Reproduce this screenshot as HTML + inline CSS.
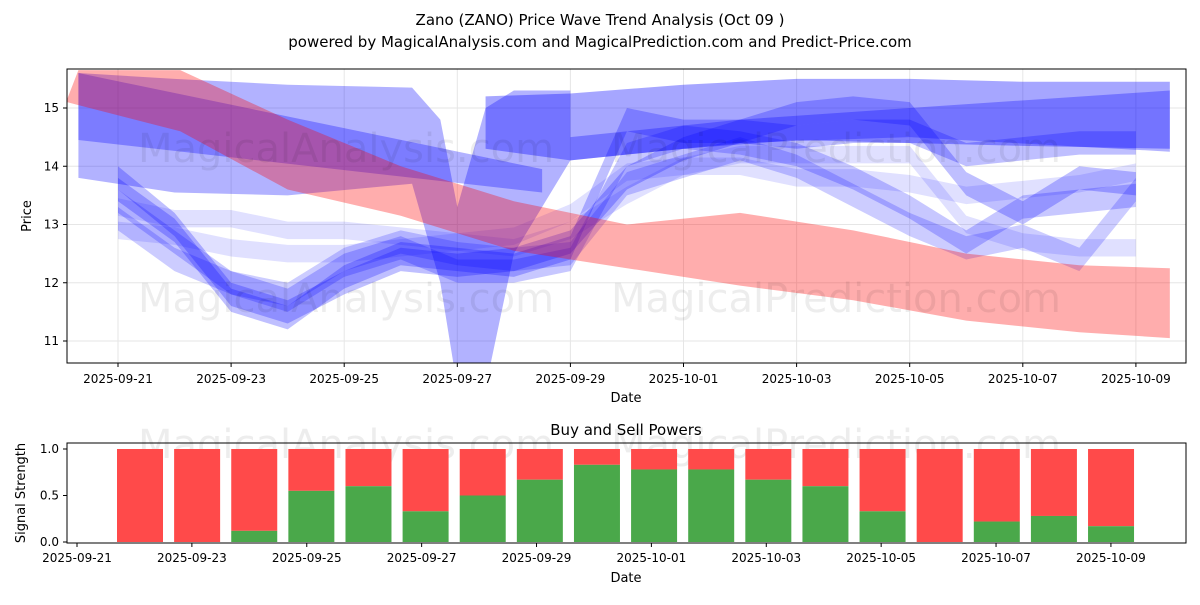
<!DOCTYPE html>
<html><head><meta charset="utf-8"><style>
body{margin:0;background:#fff;font-family:"Liberation Sans",sans-serif}
svg text{font-family:"DejaVu Sans","Liberation Sans",sans-serif}
</style></head><body>
<svg id="c" width="1200" height="600" xmlns="http://www.w3.org/2000/svg"></svg>
<script>
// ---- data ----
const xTickLabels=["2025-09-21","2025-09-23","2025-09-25","2025-09-27","2025-09-29","2025-10-01","2025-10-03","2025-10-05","2025-10-07","2025-10-09"];
const xTickDays=[1,3,5,7,9,11,13,15,17,19];
const yTicks=[11,12,13,14,15];
const redDays=[0.1,0.3,2.1,4,6,8,10,12,14,16,18,19.6];
const redUpper=[15.15,15.65,15.65,14.8,14.0,13.4,13.0,13.2,12.9,12.5,12.3,12.25];
const redLower=[15.1,15.05,14.6,13.6,13.15,12.55,12.25,11.95,11.7,11.35,11.15,11.05];
const b1Days=[0.3,2,4,6.2,6.7,7.0,7.5,8,9];
const b1Upper=[15.6,15.5,15.4,15.35,14.8,13.3,15.0,15.3,15.3];
const b1Lower=[13.8,13.55,13.5,13.7,12.0,10.2,10.2,12.5,14.1];
const b2Days=[0.3,8.5];
const b2Upper=[15.6,13.95];
const b2Lower=[14.45,13.55];
const b3Days=[7.5,9,11,13,15,17,19.6];
const b3Upper=[15.2,15.25,15.4,15.5,15.5,15.45,15.45];
const b3Lower=[14.3,14.1,14.3,14.45,14.4,14.35,14.3];
const b4Days=[9,12,15,19.6];
const b4Upper=[14.5,14.8,15.0,15.3];
const b4Lower=[14.1,14.4,14.5,14.25];
const wDays=[1,2,3,4,5,6,7,8,9,10,11,12,13,14,15,16,17,18,19];
const w1=[13.8,13.0,11.8,11.5,12.0,12.4,12.3,12.4,12.7,13.8,14.3,14.6,14.5,14.6,14.6,14.2,14.3,14.4,14.4];
const w2=[13.6,12.9,11.7,11.4,12.1,12.5,12.4,12.3,12.6,14.8,14.6,14.6,14.9,15.0,14.9,13.7,13.2,13.8,13.7];
const w3=[13.4,12.7,12.0,11.7,12.3,12.6,12.2,12.2,12.4,14.2,14.5,14.4,14.2,13.8,13.3,12.7,13.3,13.4,13.5];
const w4=[13.1,12.4,12.0,11.8,12.4,12.7,12.5,12.4,12.5,13.7,14.0,14.3,14.0,13.5,13.0,12.6,12.8,12.4,13.6];
const w5=[13.3,13.1,13.1,12.9,12.9,12.8,12.7,12.8,13.2,13.9,14.0,14.0,13.8,13.8,13.7,13.5,13.6,13.7,13.9];
const w6=[12.9,12.8,12.6,12.5,12.5,12.6,12.7,12.6,12.9,13.5,14.0,14.2,14.2,14.2,14.2,13.0,12.7,12.6,12.6];
const barDays=[2,3,4,5,6,7,8,9,10,11,12,13,14,15,16,17,18,19];
const buyVals=[0,0,0.12,0.55,0.6,0.33,0.5,0.67,0.83,0.78,0.78,0.67,0.6,0.33,0,0.22,0.28,0.17];
const yTicks2=[0,0.5,1.0];
// ---- scales ----
const X=d=>118+(d-1)*56.55, Y=v=>108+(15-v)*58.25;
const X2=d=>77+(d-1)*57.44, Y2=v=>542-v*93;
const XB=d=>140+(d-2)*57.12;
const svg=document.getElementById('c');const NS="http://www.w3.org/2000/svg";
function el(t,a,p){const e=document.createElementNS(NS,t);for(const k in a)e.setAttribute(k,a[k]);(p||svg).appendChild(e);return e;}
function txt(s,a,p){const e=el('text',a,p);e.textContent=s;return e;}
const clip=el('clipPath',{id:'cp'});el('rect',{x:67,y:69,width:1119,height:294},clip);
xTickDays.forEach(d=>{el('line',{x1:X(d),x2:X(d),y1:69,y2:363,stroke:'#e6e6e6'});});
yTicks.forEach(v=>{el('line',{x1:67,x2:1186,y1:Y(v),y2:Y(v),stroke:'#e6e6e6'});});
const g=el('g',{'clip-path':'url(#cp)'});
function band(days,up,lo,color,op,name){
  let pts=days.map((d,i)=>X(d)+','+Y(up[i]));
  for(let i=days.length-1;i>=0;i--)pts.push(X(days[i])+','+Y(lo[i]));
  const p=el('polygon',{points:pts.join(' '),fill:color,'fill-opacity':op},g);
  
  
}
function wband(vals,hw,op,name){band(wDays,vals.map(v=>v+hw),vals.map(v=>v-hw),'#0000ff',op,name);}
band(b1Days,b1Upper,b1Lower,'#0000ff',0.3,'blue-band-v');
band(b2Days,b2Upper,b2Lower,'#0000ff',0.3,'blue-band-diagonal');
band(b3Days,b3Upper,b3Lower,'#0000ff',0.35,'blue-band-top');
band(b4Days,b4Upper,b4Lower,'#0000ff',0.3,'blue-band-top-inner');
wband(w5,0.15,0.12,'wave-5');wband(w6,0.15,0.12,'wave-6');
wband(w1,0.2,0.25,'wave-1');wband(w2,0.2,0.25,'wave-2');wband(w3,0.2,0.22,'wave-3');wband(w4,0.2,0.2,'wave-4');
band(redDays,redUpper,redLower,'#ff0000',0.32,'red-band');
txt('MagicalAnalysis.com',{x:346,y:162,'font-size':40,fill:'#000','fill-opacity':0.07,'text-anchor':'middle'});
txt('MagicalPrediction.com',{x:836,y:162,'font-size':40,fill:'#000','fill-opacity':0.07,'text-anchor':'middle'});
txt('MagicalAnalysis.com',{x:346,y:312,'font-size':40,fill:'#000','fill-opacity':0.07,'text-anchor':'middle'});
txt('MagicalPrediction.com',{x:836,y:312,'font-size':40,fill:'#000','fill-opacity':0.07,'text-anchor':'middle'});
el('rect',{x:67,y:69,width:1119,height:294,fill:'none',stroke:'#000','stroke-width':1});
xTickDays.forEach((d,i)=>{el('line',{x1:X(d),x2:X(d),y1:363,y2:367,stroke:'#000'});txt(xTickLabels[i],{x:X(d),y:383,'font-size':12,'text-anchor':'middle'});});
yTicks.forEach(v=>{el('line',{x1:63,x2:67,y1:Y(v),y2:Y(v),stroke:'#000'});txt(String(v),{x:59,y:Y(v)+4,'font-size':12,'text-anchor':'end'});});
txt('Date',{x:626,y:402,'font-size':13,'text-anchor':'middle'});
txt('Price',{x:31,y:216,'font-size':13,'text-anchor':'middle',transform:'rotate(-90 31 216)'});
txt('Zano (ZANO) Price Wave Trend Analysis (Oct 09 )',{x:600,y:25,'font-size':15,'text-anchor':'middle'});
txt('powered by MagicalAnalysis.com and MagicalPrediction.com and Predict-Price.com',{x:600,y:47,'font-size':15,'text-anchor':'middle'});
txt('MagicalAnalysis.com',{x:346,y:458,'font-size':40,fill:'#000','fill-opacity':0.07,'text-anchor':'middle'});
txt('MagicalPrediction.com',{x:836,y:458,'font-size':40,fill:'#000','fill-opacity':0.07,'text-anchor':'middle'});
barDays.forEach((d,i)=>{
  const x=XB(d)-23,w=46,b=buyVals[i];
  const r=el('rect',{x:x,y:Y2(1),width:w,height:Y2(b)-Y2(1),fill:'#ff4a4a'});
  
  
  const gr=el('rect',{x:x,y:Y2(b),width:w,height:Y2(0)-Y2(b),fill:'#4aa84a'});
  
  
});
el('rect',{x:67,y:443,width:1119,height:100,fill:'none',stroke:'#000'});
xTickDays.forEach((d,i)=>{el('line',{x1:X2(d),x2:X2(d),y1:543,y2:547,stroke:'#000'});txt(xTickLabels[i],{x:X2(d),y:562,'font-size':12,'text-anchor':'middle'});});
yTicks2.forEach(v=>{el('line',{x1:63,x2:67,y1:Y2(v),y2:Y2(v),stroke:'#000'});txt(v.toFixed(1),{x:59,y:Y2(v)+4,'font-size':12,'text-anchor':'end'});});
txt('Date',{x:626,y:582,'font-size':13,'text-anchor':'middle'});
txt('Signal Strength',{x:25,y:493,'font-size':13,'text-anchor':'middle',transform:'rotate(-90 25 493)'});
txt('Buy and Sell Powers',{x:626,y:435,'font-size':15,'text-anchor':'middle'});
</script>
</body></html>
